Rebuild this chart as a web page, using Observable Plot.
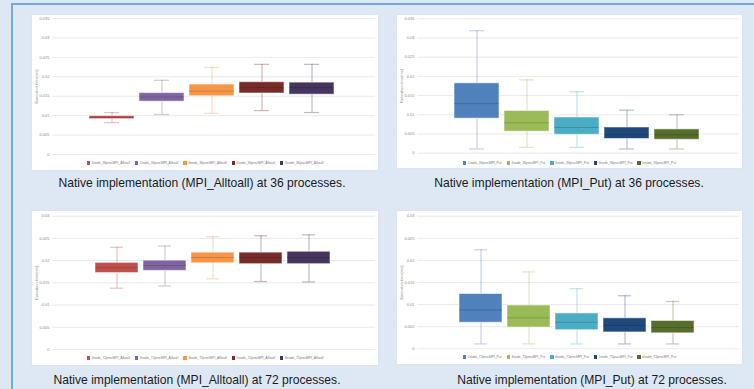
<!DOCTYPE html>
<html>
<head>
<meta charset="utf-8">
<script src="https://cdn.jsdelivr.net/npm/d3@7"></script>
<script src="https://cdn.jsdelivr.net/npm/@observablehq/plot@0.6"></script>
<style>
  html, body { margin: 0; padding: 0; }
  body { width: 754px; height: 389px; background: #dde8f4; position: relative; overflow: hidden; font-family: "Liberation Sans", Arial, sans-serif; }
  #frame { position: absolute; left: 11px; top: 3px; width: 800px; height: 400px; border-top: 2px solid #74a9dc; border-left: 2px solid #74a9dc; }
  .card { position: absolute; background: #fff; box-shadow: 0 0 1px rgba(0,0,0,0.08); }
  .card svg { position: absolute; left: 0; top: 0; }
  .legend { position: absolute; left: 0; right: 0; display: flex; justify-content: center; gap: 5px; font-size: 3.3px; color: #777; line-height: 4px; }
  .legend span.sw { display: inline-block; width: 3.4px; height: 3.4px; margin-right: 1.5px; vertical-align: middle; }
  .caption { position: absolute; font-size: 12.1px; color: #1a1a1a; white-space: nowrap; transform: translateX(-50%); }
</style>
</head>
<body>
<div id="frame"></div>
<script>
// ---------- data ----------
const alltoallColors = ["#c0504d", "#8064a2", "#f79646", "#772c2a", "#45355f"];
const putColors = ["#4f81bd", "#9bbb59", "#4bacc6", "#1f497d", "#566d2c"];

const ticks36 = [0, 0.005, 0.01, 0.015, 0.02, 0.025, 0.03, 0.035];
const tickLabels36 = ["0", "0.005", "0.01", "0.015", "0.02", "0.025", "0.03", "0.035"];
const ticks72 = [0, 0.005, 0.01, 0.015, 0.02, 0.025, 0.03];
const tickLabels72 = ["0", "0.005", "0.01", "0.015", "0.02", "0.025", "0.03"];

// Panel 1: MPI_Alltoall, 36 processes
const a36Names = ["1node_36procMPI_Alltoall", "2node_36procMPI_Alltoall", "3node_36procMPI_Alltoall", "4node_36procMPI_Alltoall", "5node_36procMPI_Alltoall"];
const a36Min    = [0.0082, 0.0103, 0.0106, 0.0113, 0.0108];
const a36Q1     = [0.0091, 0.0136, 0.0150, 0.0157, 0.0154];
const a36Median = [0.0095, 0.0148, 0.0163, 0.0172, 0.0172];
const a36Q3     = [0.0099, 0.0158, 0.0180, 0.0186, 0.0185];
const a36Max    = [0.0108, 0.0191, 0.0224, 0.0232, 0.0232];

// Panel 2: MPI_Put, 36 processes
const p36Names = ["1node_36procMPI_Put", "2node_36procMPI_Put", "3node_36procMPI_Put", "4node_36procMPI_Put", "5node_36procMPI_Put"];
const p36Min    = [0.0011, 0.0015, 0.0015, 0.0011, 0.0011];
const p36Q1     = [0.0090, 0.0056, 0.0048, 0.0037, 0.0035];
const p36Median = [0.0129, 0.0079, 0.0067, 0.0048, 0.0048];
const p36Q3     = [0.0182, 0.0110, 0.0093, 0.0067, 0.0062];
const p36Max    = [0.0319, 0.0191, 0.0160, 0.0112, 0.0100];

// Panel 3: MPI_Alltoall, 72 processes
const a72Names = ["2node_72procMPI_Alltoall", "3node_72procMPI_Alltoall", "4node_72procMPI_Alltoall", "5node_72procMPI_Alltoall", "6node_72procMPI_Alltoall"];
const a72Min    = [0.0138, 0.0143, 0.0159, 0.0153, 0.0152];
const a72Q1     = [0.0172, 0.0177, 0.0194, 0.0192, 0.0192];
const a72Median = [0.0184, 0.0189, 0.0207, 0.0207, 0.0207];
const a72Q3     = [0.0195, 0.0200, 0.0218, 0.0218, 0.0220];
const a72Max    = [0.0230, 0.0233, 0.0254, 0.0256, 0.0258];

// Panel 4: MPI_Put, 72 processes
const p72Names = ["2node_72procMPI_Put", "3node_72procMPI_Put", "4node_72procMPI_Put", "5node_72procMPI_Put", "6node_72procMPI_Put"];
const p72Min    = [0.0011, 0.0011, 0.0011, 0.0011, 0.0011];
const p72Q1     = [0.0059, 0.0048, 0.0042, 0.0037, 0.0035];
const p72Median = [0.0088, 0.0070, 0.0060, 0.0053, 0.0048];
const p72Q3     = [0.0124, 0.0098, 0.0080, 0.0069, 0.0063];
const p72Max    = [0.0224, 0.0174, 0.0136, 0.0120, 0.0107];

const captions = [
  "Native implementation (MPI_Alltoall) at 36 processes.",
  "Native implementation (MPI_Put) at 36 processes.",
  "Native implementation (MPI_Alltoall) at 72 processes.",
  "Native implementation (MPI_Put) at 72 processes."
];

// ---------- layout ----------
const panels = [
  {names: a36Names, min: a36Min, q1: a36Q1, med: a36Median, q3: a36Q3, max: a36Max, colors: alltoallColors,
   ticks: ticks36, tickLabels: tickLabels36, ymax: 0.035,
   left: 32, top: 15, w: 346, h: 155, svgH: 143, mt: 3, mb: 4, xr: [57, 303], legendTop: 146,
   caption: captions[0], capX: 202, capY: 176},
  {names: p36Names, min: p36Min, q1: p36Q1, med: p36Median, q3: p36Q3, max: p36Max, colors: putColors,
   ticks: ticks36, tickLabels: tickLabels36, ymax: 0.035,
   left: 397, top: 15, w: 345, h: 153, svgH: 143, mt: 3.3, mb: 5.3, xr: [56.3, 303], legendTop: 146,
   caption: captions[1], capX: 569, capY: 176},
  {names: a72Names, min: a72Min, q1: a72Q1, med: a72Median, q3: a72Q3, max: a72Max, colors: alltoallColors,
   ticks: ticks72, tickLabels: tickLabels72, ymax: 0.03,
   left: 32, top: 211, w: 346, h: 154, svgH: 143, mt: 4.7, mb: 5, xr: [61.3, 300.7], legendTop: 145,
   caption: captions[2], capX: 197, capY: 373},
  {names: p72Names, min: p72Min, q1: p72Q1, med: p72Median, q3: p72Q3, max: p72Max, colors: putColors,
   ticks: ticks72, tickLabels: tickLabels72, ymax: 0.03,
   left: 397, top: 211, w: 345, h: 153, svgH: 143, mt: 4.7, mb: 5.7, xr: [61, 298.7], legendTop: 144,
   caption: captions[3], capX: 592, capY: 373}
];

for (const p of panels) {
  const data = p.names.map((name, i) => ({name, min: p.min[i], q1: p.q1[i], med: p.med[i], q3: p.q3[i], max: p.max[i]}));
  const card = document.createElement("div");
  card.className = "card";
  Object.assign(card.style, {left: p.left + "px", top: p.top + "px", width: p.w + "px", height: p.h + "px"});

  const chart = Plot.plot({
    width: p.w,
    height: p.svgH,
    marginLeft: 20,
    marginRight: 3,
    marginTop: p.mt,
    marginBottom: p.mb,
    style: {background: "transparent", fontFamily: "Liberation Sans, Arial, sans-serif", fontSize: "4px", color: "#8a8a8a", overflow: "visible"},
    x: {type: "band", domain: p.names, range: p.xr, paddingInner: 0.1, paddingOuter: 0, axis: null},
    y: {domain: [0, p.ymax], ticks: p.ticks, tickFormat: (d) => p.tickLabels[p.ticks.indexOf(d)],
        tickSize: 0, tickPadding: 3, label: "Execution time(ms)", labelAnchor: "center", labelArrow: "none", labelOffset: 17},
    color: {domain: p.names, range: p.colors},
    marks: [
      Plot.gridY(p.ticks, {stroke: "#dadada", strokeOpacity: 1, strokeWidth: 0.6}),
      Plot.ruleX(data, {x: "name", y1: "min", y2: "max", stroke: "name", strokeOpacity: 0.35, strokeWidth: 1.2}),
      Plot.tickY(data, {x: "name", y: "max", stroke: "name", strokeOpacity: 0.35, strokeWidth: 1.2, insetLeft: 15, insetRight: 15}),
      Plot.tickY(data, {x: "name", y: "min", stroke: "name", strokeOpacity: 0.35, strokeWidth: 1.2, insetLeft: 15, insetRight: 15}),
      Plot.barY(data, {x: "name", y1: "q1", y2: "q3", fill: "name", stroke: "white", strokeOpacity: 0.55, strokeWidth: 1}),
      Plot.tickY(data, {x: "name", y: "med", stroke: "black", strokeOpacity: 0.18, strokeWidth: 1})
    ]
  });
  card.appendChild(chart);

  const legend = document.createElement("div");
  legend.className = "legend";
  legend.style.top = p.legendTop + "px";
  p.names.forEach((n, i) => {
    const item = document.createElement("span");
    const sw = document.createElement("span");
    sw.className = "sw";
    sw.style.background = p.colors[i];
    item.appendChild(sw);
    item.appendChild(document.createTextNode(n));
    legend.appendChild(item);
  });
  card.appendChild(legend);
  document.body.appendChild(card);

  const cap = document.createElement("div");
  cap.className = "caption";
  cap.style.left = p.capX + "px";
  cap.style.top = p.capY + "px";
  cap.textContent = p.caption;
  document.body.appendChild(cap);
}
</script>
</body>
</html>
